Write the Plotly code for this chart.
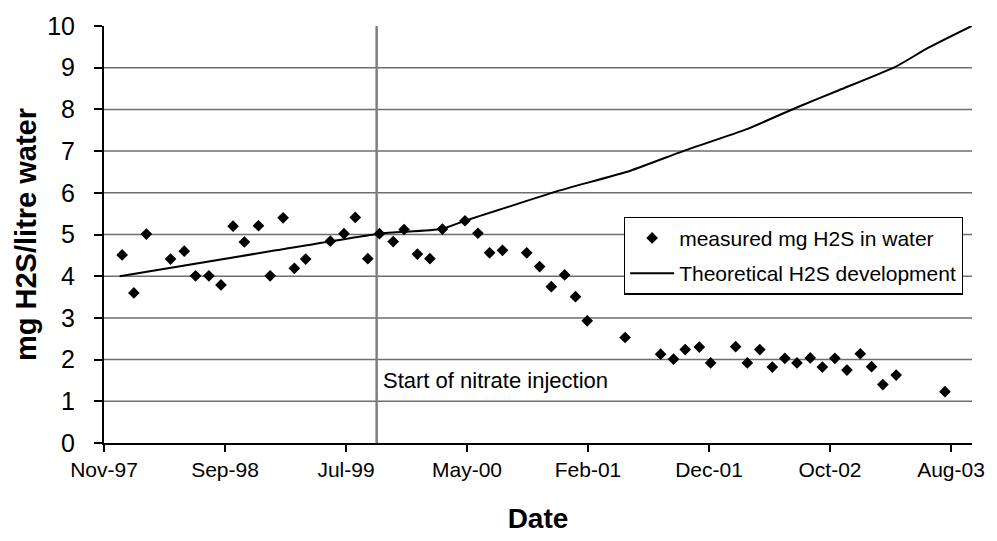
import plotly.graph_objects as go

# Measured H2S concentration in produced water (mg/l) by sampling date
sample_dates = [
    "1997-12-29", "1998-01-27", "1998-02-27", "1998-04-28", "1998-06-01",
    "1998-06-29", "1998-08-01", "1998-08-31", "1998-09-30", "1998-10-28",
    "1998-12-02", "1998-12-31", "1999-02-01", "1999-03-01", "1999-03-29",
    "1999-05-29", "1999-07-02", "1999-07-30", "1999-08-30", "1999-09-28",
    "1999-11-01", "1999-11-28", "1999-12-31", "2000-01-31", "2000-03-02",
    "2000-04-27", "2000-05-29", "2000-06-27", "2000-07-29", "2000-09-27",
    "2000-10-29", "2000-11-27", "2000-12-30", "2001-01-26", "2001-02-24",
    "2001-05-29", "2001-08-25", "2001-09-26", "2001-10-25", "2001-11-29",
    "2001-12-27", "2002-02-27", "2002-03-28", "2002-04-28", "2002-05-29",
    "2002-06-29", "2002-07-29", "2002-08-31", "2002-09-30", "2002-10-31",
    "2002-11-30", "2003-01-02", "2003-01-30", "2003-02-27", "2003-04-01",
    "2003-07-31",
]
h2s_measured = [
    4.51, 3.60, 5.01, 4.41, 4.60,
    4.01, 4.01, 3.79, 5.20, 4.82,
    5.21, 4.01, 5.40, 4.19, 4.41,
    4.84, 5.02, 5.41, 4.42, 5.02,
    4.83, 5.12, 4.53, 4.42, 5.13,
    5.33, 5.03, 4.56, 4.62, 4.56,
    4.23, 3.75, 4.03, 3.51, 2.93,
    2.53, 2.13, 2.01, 2.24, 2.30,
    1.92, 2.31, 1.92, 2.24, 1.82,
    2.03, 1.92, 2.04, 1.82, 2.03,
    1.75, 2.14, 1.83, 1.40, 1.63,
    1.23,
]

# Theoretical H2S development without treatment
theory_dates = [
    "1997-12-23", "1999-01-14", "1999-09-28", "2000-02-28", "2000-04-27",
    "2000-07-17", "2000-12-12", "2001-06-11", "2001-10-20", "2002-03-25",
    "2002-07-27", "2002-11-10", "2003-03-30", "2003-06-20", "2003-10-05",
]
h2s_theory = [
    4.00, 4.62, 5.02, 5.13, 5.33,
    5.58, 6.04, 6.53, 7.00, 7.52,
    8.04, 8.46, 9.02, 9.48, 10.0,
]

injection_start = "1999-09-21"
injection_label = "Start of nitrate injection"

y_ticks = list(range(0, 11))
x_tick_start = "1997-11-14"
x_tick_step_days = 300
x_range = ["1997-11-14", "2003-10-06"]

FONT = "Liberation Sans, Arial, sans-serif"
DAY_MS = 86400000

fig = go.Figure()

fig.add_trace(go.Scatter(
    x=sample_dates, y=h2s_measured,
    mode="markers",
    name="measured mg H2S in water",
    legendgroup="measured",
    marker=dict(symbol="diamond", size=9, color="black"),
))
fig.add_trace(go.Scatter(
    x=theory_dates, y=h2s_theory,
    mode="lines",
    name="Theoretical H2S development",
    legendgroup="theory",
    line=dict(color="black", width=2, shape="spline", smoothing=0.5),
))

# horizontal gridlines (none at the top of the axis)
shapes = [
    dict(type="line", xref="paper", x0=0, x1=1, yref="y", y0=v, y1=v,
         line=dict(color="#6e6e6e", width=1.5), layer="below")
    for v in y_ticks[1:-1]
]
# marker for the start of nitrate injection
shapes.append(dict(
    type="line", xref="x", x0=injection_start, x1=injection_start,
    yref="paper", y0=0, y1=1,
    line=dict(color="#7f7f7f", width=2.5), layer="below",
))

fig.update_layout(
    width=997, height=541,
    margin=dict(l=104, r=20, t=24, b=95),
    paper_bgcolor="white", plot_bgcolor="white",
    font=dict(family=FONT, color="black"),
    shapes=shapes,
    showlegend=True,
    legend=dict(
        x=0.599, y=0.543, xanchor="left", yanchor="top",
        bgcolor="white", bordercolor="black", borderwidth=1.2,
        font=dict(size=21, family=FONT, color="black"),
        itemwidth=44,
        tracegroupgap=5,
    ),
    annotations=[dict(
        x=injection_start, y=1.51, xref="x", yref="y",
        text=injection_label, showarrow=False,
        xanchor="left", yanchor="middle", xshift=4,
        font=dict(size=22, family=FONT, color="black"),
    )],
)

fig.update_xaxes(
    type="date",
    range=x_range,
    tick0=x_tick_start,
    dtick=x_tick_step_days * DAY_MS,
    tickformat="%b-%y",
    ticks="outside", ticklen=7, tickwidth=1.5, tickcolor="black",
    showline=True, linecolor="black", linewidth=1.5,
    showgrid=False, zeroline=False,
    tickfont=dict(size=21, family=FONT),
    title=dict(text="<b>Date</b>", font=dict(size=28, family=FONT), standoff=28),
)
fig.update_yaxes(
    range=[0, 10],
    tickvals=y_ticks,
    ticks="outside", ticklen=8, tickwidth=1.5, tickcolor="black",
    ticklabelstandoff=14,
    showline=True, linecolor="black", linewidth=2,
    showgrid=False, zeroline=False,
    tickfont=dict(size=25, family=FONT),
    title=dict(text="<b>mg H2S/litre water</b>", font=dict(size=29, family=FONT), standoff=2),
)

fig.write_html("out.html")
